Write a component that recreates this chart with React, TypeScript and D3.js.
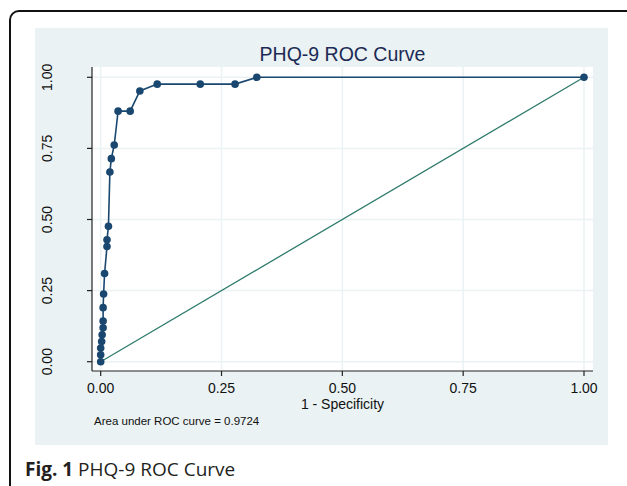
import * as d3 from "d3";

// ROC points (1 - specificity, sensitivity)
const fpr = [0, 0, 0, 0.002, 0.003, 0.005, 0.005, 0.005, 0.006, 0.008, 0.013, 0.013, 0.016, 0.019, 0.022, 0.028, 0.036, 0.061, 0.081, 0.117, 0.206, 0.278, 0.323, 1];
const tpr = [0, 0.024, 0.048, 0.071, 0.095, 0.119, 0.143, 0.19, 0.238, 0.31, 0.405, 0.429, 0.476, 0.667, 0.714, 0.762, 0.881, 0.881, 0.952, 0.976, 0.976, 0.976, 1, 1];
const refLine = [0, 1];
const ticks = [0, 0.25, 0.5, 0.75, 1];
const title = "PHQ-9 ROC Curve";
const xTitle = "1 - Specificity";
const note = "Area under ROC curve = 0.9724";

const W = 627;
const H = 486;
const font = "'Liberation Sans', Arial, sans-serif";

const App = () => {
	// plot region (white)
	const left = 92, right = 593, top = 67, bottom = 371;
	const x = d3.scaleLinear().domain([0, 1]).range([100.7, 584]);
	const y = d3.scaleLinear().domain([0, 1]).range([361.7, 77.3]);

	const pts: [number, number][] = fpr.map((f, i) => [f, tpr[i]]);
	const line = d3.line<[number, number]>()
		.x(d => x(d[0]))
		.y(d => y(d[1]));

	return (
		<svg width={W} height={H} style={{ position: "absolute", left: 0, top: 0, background: "#fff" }}>
			{/* outer frame */}
			<rect x={10} y={11} width={680} height={560} rx={9} fill="#fff" stroke="#111" strokeWidth={2} />
			{/* graph panel */}
			<rect x={35} y={28} width={573} height={417} fill="#eaf2f3" />
			<rect x={left} y={top} width={right - left} height={bottom - top} fill="#fff" />

			{/* grid */}
			{ticks.map(t => (
				<line key={"gx" + t} x1={x(t)} x2={x(t)} y1={top} y2={bottom} stroke="#eaf2f3" strokeWidth={1.5} />
			))}
			{ticks.map(t => (
				<line key={"gy" + t} x1={left} x2={right} y1={y(t)} y2={y(t)} stroke="#eaf2f3" strokeWidth={1.5} />
			))}

			{/* axes */}
			<line x1={left} x2={left} y1={top} y2={bottom} stroke="#222" strokeWidth={1.2} />
			<line x1={left} x2={right} y1={bottom} y2={bottom} stroke="#222" strokeWidth={1.2} />
			{ticks.map(t => (
				<g key={"tx" + t}>
					<line x1={x(t)} x2={x(t)} y1={bottom} y2={bottom + 5} stroke="#222" strokeWidth={1.2} />
					<text x={x(t)} y={393} textAnchor="middle" fontFamily={font} fontSize={14} fill="#111">
						{d3.format(".2f")(t)}
					</text>
				</g>
			))}
			{ticks.map(t => (
				<g key={"ty" + t}>
					<line x1={left - 5} x2={left} y1={y(t)} y2={y(t)} stroke="#222" strokeWidth={1.2} />
					<text transform={`translate(52,${y(t)}) rotate(-90)`} textAnchor="middle" fontFamily={font} fontSize={14} fill="#111">
						{d3.format(".2f")(t)}
					</text>
				</g>
			))}

			{/* reference diagonal */}
			<line x1={x(refLine[0])} y1={y(refLine[0])} x2={x(refLine[1])} y2={y(refLine[1])} stroke="#2e7b6b" strokeWidth={1.3} />

			{/* ROC curve */}
			<path d={line(pts) || ""} fill="none" stroke="#1a476f" strokeWidth={1.6} />
			{pts.map((d, i) => (
				<circle key={i} cx={x(d[0])} cy={y(d[1])} r={3.8} fill="#1a476f" />
			))}

			{/* texts */}
			<text x={(left + right) / 2} y={61} textAnchor="middle" fontFamily={font} fontSize={19.5} fill="#1c2a55">{title}</text>
			<text x={(left + right) / 2} y={409} textAnchor="middle" fontFamily={font} fontSize={14} fill="#111">{xTitle}</text>
			<text x={94} y={425} fontFamily={font} fontSize={11.5} fill="#111">{note}</text>

			{/* caption */}
			<text x={25} y={476} fontFamily="'Open Sans', sans-serif" fontSize={19} fill="#231f20">
				<tspan fontWeight="bold">Fig. 1</tspan>
				<tspan> PHQ-9 ROC Curve</tspan>
			</text>
		</svg>
	);
};

export default App;
